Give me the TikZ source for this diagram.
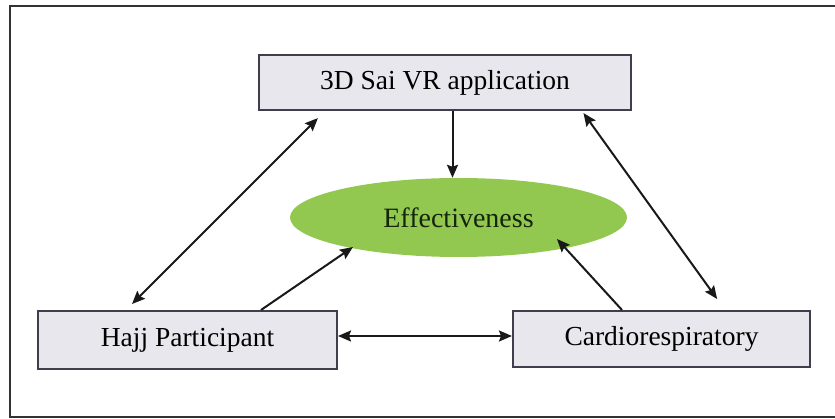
\documentclass[tikz,border=0pt]{standalone}
\usepackage{fontspec}
\setmainfont{Liberation Serif}
\newfontfamily\labelface{Liberation Serif}
\usetikzlibrary{shapes.geometric,arrows.meta,calc}

\definecolor{boxfill}{HTML}{E7E7ED}
\definecolor{boxline}{HTML}{3E3E4C}
\definecolor{effgreen}{HTML}{92C850}
\definecolor{efftext}{HTML}{14250C}

\tikzset{
  box/.style={draw=boxline, line width=2pt, fill=boxfill, rectangle,
    inner sep=0pt, font=\labelface\fontsize{27.5}{33}\selectfont},
  goal/.style={ellipse, fill=effgreen, draw=none, inner sep=0pt,
    text=efftext, font=\labelface\fontsize{28}{33}\selectfont},
  head/.tip={Stealth[length=13pt,width=11pt,inset=2pt]},
  link/.style={line width=2pt, draw=black!90, -head},
  twoway/.style={line width=2pt, draw=black!90, head-head}
}

\begin{document}
\begin{tikzpicture}[x=1pt, y=-1pt]
  \useasboundingbox (0,0) rectangle (835,419);
  \clip (0,0) rectangle (835,419);

  % outer frame
  \draw[line width=2pt, draw=black!80] (10,6) rectangle (850,417);

  % blocks
  \node[box, minimum width=372pt, minimum height=55pt] (app) at (445,82.5) {3D Sai VR application};
  \node[goal, minimum width=337pt, minimum height=79pt] (eff) at (458.5,217.5) {Effectiveness};
  \node[box, minimum width=299pt, minimum height=58pt] (hajj) at (187.5,340) {Hajj Participant};
  \node[box, minimum width=297pt, minimum height=56pt] (cardio) at (661.5,339) {Cardiorespiratory};

  % application drives effectiveness
  \draw[link] ([xshift=7.5pt]app.south) -- ([xshift=7.5pt]app.south |- eff.north);

  % mutual links with the application
  \draw[twoway, shorten <=10pt, shorten >=8.5pt]
    ([xshift=67pt]app.south west) -- ([xshift=89pt]hajj.north west);
  \draw[twoway, shorten <=2.5pt, shorten >=13.5pt]
    ([xshift=-50pt]app.south east) -- ([xshift=213pt]cardio.north west);

  % participant and cardiorespiratory towards effectiveness
  \draw[link] ([xshift=224pt]hajj.north west) -- ($(eff.center)+(-105.5,29.5)$);
  \draw[link] ([xshift=110pt]cardio.north west) -- ($(eff.center)+(98.5,21.5)$);

  % participant <-> cardiorespiratory
  \draw[twoway] ([yshift=4pt]hajj.east) -- ([yshift=4pt]hajj.east -| cardio.west);
\end{tikzpicture}
\end{document}
